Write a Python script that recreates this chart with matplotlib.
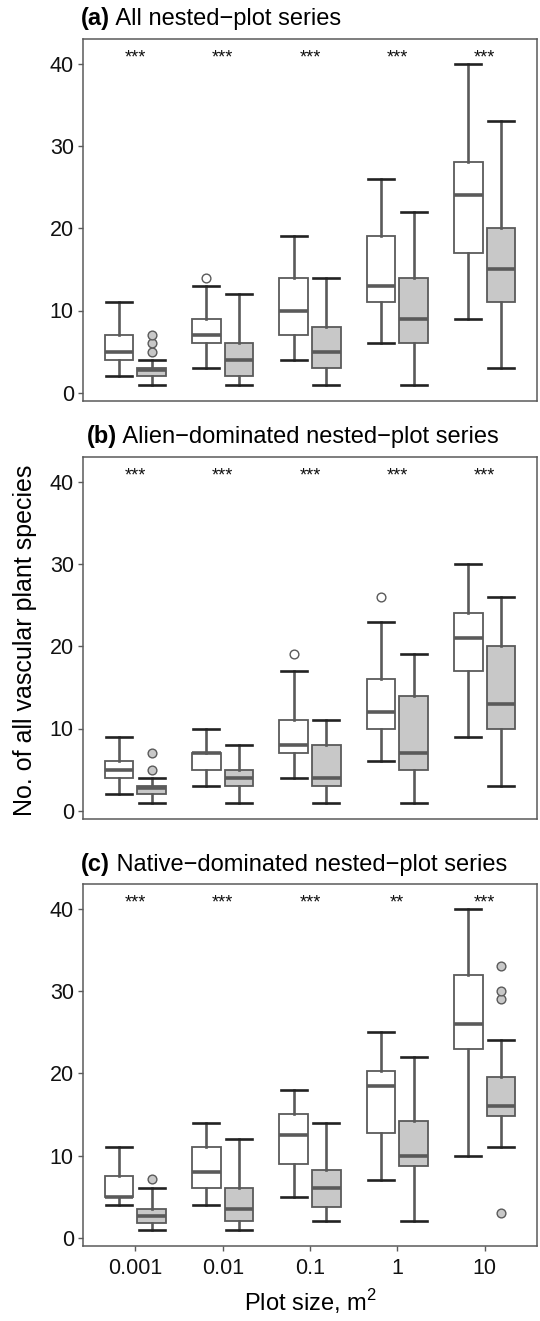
"""Nested-plot species richness boxplots (three stacked panels)."""

import matplotlib

matplotlib.use("Agg")

import matplotlib.pyplot as plt
import numpy as np

plt.rcParams["font.family"] = ["Liberation Sans", "DejaVu Sans"]
plt.rcParams["mathtext.fontset"] = "custom"
plt.rcParams["mathtext.rm"] = "Liberation Sans"

plot_sizes = ["0.001", "0.01", "0.1", "1", "10"]

# each row: (lower whisker, q1, median, q3, upper whisker)
a_open = [(2, 4, 5, 7, 11), (3, 6, 7, 9, 13), (4, 7, 10, 14, 19), (6, 11, 13, 19, 26), (9, 17, 24, 28, 40)]
a_open_out = [[], [14], [], [], []]
a_grey = [(1, 2, 2.8, 3, 4), (1, 2, 4, 6, 12), (1, 3, 5, 8, 14), (1, 6, 9, 14, 22), (3, 11, 15, 20, 33)]
a_grey_out = [[5, 6, 7], [], [], [], []]
a_stars = ["***", "***", "***", "***", "***"]

b_open = [(2, 4, 5, 6, 9), (3, 5, 7, 7, 10), (4, 7, 8, 11, 17), (6, 10, 12, 16, 23), (9, 17, 21, 24, 30)]
b_open_out = [[], [], [19], [26], []]
b_grey = [(1, 2, 2.8, 3, 4), (1, 3, 4, 5, 8), (1, 3, 4, 8, 11), (1, 5, 7, 14, 19), (3, 10, 13, 20, 26)]
b_grey_out = [[5, 7], [], [], [], []]
b_stars = ["***", "***", "***", "***", "***"]

c_open = [(4, 4.9, 5, 7.5, 11), (4, 6, 8, 11, 14), (5, 9, 12.5, 15, 18), (7, 12.75, 18.5, 20.3, 25), (10, 23, 26, 32, 40)]
c_open_out = [[], [], [], [], []]
c_grey = [(1, 1.75, 2.6, 3.5, 6), (1, 2, 3.5, 6, 12), (2, 3.7, 6, 8.2, 14), (2, 8.7, 10, 14.2, 22), (11, 14.8, 16, 19.5, 24)]
c_grey_out = [[7.2], [], [], [], [3, 29, 30, 33]]
c_stars = ["***", "***", "***", "**", "***"]

EDGE = "#5a5a5a"
GREY_FILL = "#c8c8c8"

FIG_W, FIG_H = 540, 1321
AX_LEFT, AX_RIGHT = 83, 537


def _stats(rows, outliers):
    return [
        {"whislo": r[0], "q1": r[1], "med": r[2], "q3": r[3], "whishi": r[4], "fliers": o}
        for r, o in zip(rows, outliers)
    ]


def _draw_series(ax, rows, outliers, positions, fill, flier_fill):
    ax.bxp(
        _stats(rows, outliers),
        positions=positions,
        widths=0.33,
        capwidths=0.3,
        patch_artist=True,
        boxprops={"facecolor": fill, "edgecolor": EDGE, "linewidth": 1.3},
        medianprops={"color": EDGE, "linewidth": 2.6, "solid_capstyle": "butt"},
        whiskerprops={"color": EDGE, "linewidth": 1.9},
        capprops={"color": "#222222", "linewidth": 1.9},
        flierprops={
            "marker": "o",
            "markerfacecolor": flier_fill,
            "markeredgecolor": EDGE,
            "markeredgewidth": 1.0,
            "markersize": 6.3,
            "linestyle": "none",
        },
        manage_ticks=False,
    )


def draw_panel(top_px, open_rows, open_out, grey_rows, grey_out, stars, tag, title,
               title_shift_px=0, show_x=False):
    height_px = 362
    width_px = AX_RIGHT - AX_LEFT
    ax = fig.add_axes(
        [
            AX_LEFT / FIG_W,
            1 - (top_px + height_px) / FIG_H,
            width_px / FIG_W,
            height_px / FIG_H,
        ]
    )
    centers = np.arange(1, len(plot_sizes) + 1)
    _draw_series(ax, open_rows, open_out, centers - 0.1875, "white", "white")
    _draw_series(ax, grey_rows, grey_out, centers + 0.1875, GREY_FILL, GREY_FILL)
    for x, label in zip(centers, stars):
        ax.text(x, 40.7, label, ha="center", va="center", fontsize=13, color="#111111")

    ax.set_xlim(0.4, len(plot_sizes) + 0.6)
    ax.set_ylim(-1, 43)
    ax.set_yticks([0, 10, 20, 30, 40])
    ax.tick_params(axis="y", length=3.6, width=1.0, color=EDGE, labelsize=15.5, pad=3, labelcolor="#111111")
    if show_x:
        ax.set_xticks(centers)
        ax.set_xticklabels(plot_sizes)
        ax.tick_params(axis="x", length=3.6, width=1.0, color=EDGE, labelsize=15.5, pad=5, labelcolor="#111111")
    else:
        ax.set_xticks([])
    for spine in ax.spines.values():
        spine.set_color(EDGE)
        spine.set_linewidth(1.1)

    tag_text = ax.text((title_shift_px - 2) / width_px, 1 + 20 / height_px, tag, transform=ax.transAxes,
                       ha="left", va="center", fontsize=17, fontweight="bold")
    ax.annotate(" " + title, xy=(1, 0), xycoords=tag_text, ha="left", va="bottom", fontsize=17)
    return ax


fig = plt.figure(figsize=(FIG_W / 100, FIG_H / 100), dpi=100)

draw_panel(39, a_open, a_open_out, a_grey, a_grey_out, a_stars, "(a)", "All nested\u2212plot series")
ax_b = draw_panel(457, b_open, b_open_out, b_grey, b_grey_out, b_stars, "(b)",
                  "Alien\u2212dominated nested\u2212plot series", title_shift_px=6)
ax_c = draw_panel(884, c_open, c_open_out, c_grey, c_grey_out, c_stars, "(c)",
                  "Native\u2212dominated nested\u2212plot series", show_x=True)

fig.text(25 / FIG_W, 1 - 640 / FIG_H, "No. of all vascular plant species", rotation=90,
         ha="center", va="center", fontsize=18)
ax_c.set_xlabel(r"Plot size, m$^{\mathrm{2}}$", fontsize=17, labelpad=6)

fig.savefig("out.png", dpi=100)
plt.close(fig)
